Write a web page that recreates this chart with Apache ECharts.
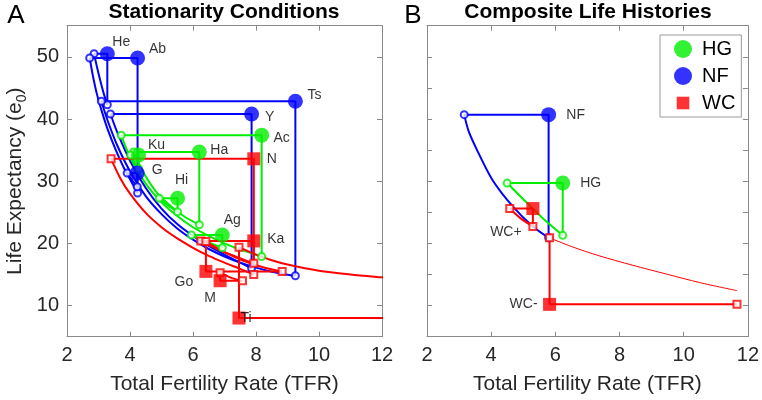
<!DOCTYPE html>
<html><head><meta charset="utf-8">
<script src="https://cdn.jsdelivr.net/npm/echarts@6/dist/echarts.min.js"></script>
<style>html,body{margin:0;padding:0;background:#fff}#c{width:762px;height:400px}</style>
</head><body><div id="c"></div>
<script>
// ---------------- DATA ----------------
const xTicks = [2, 4, 6, 8, 10, 12];
const yTicksA = [10, 20, 30, 40, 50];
const yTicksB = [10, 15, 20, 25, 30, 35, 40, 45, 50];

// Panel A: populations
const namesA  = ['He', 'Ab', 'Ts', 'Y', 'G', 'Ac', 'Ha', 'Ku', 'Hi', 'Ag', 'N', 'Ka', 'Go', 'M', 'Ti'];
const groupsA = ['NF', 'NF', 'NF', 'NF', 'NF', 'HG', 'HG', 'HG', 'HG', 'HG', 'WC', 'WC', 'WC', 'WC', 'WC'];
const tfrA    = [3.28, 4.24, 9.25, 7.86, 4.23, 8.18, 6.20, 4.27, 5.51, 6.93, 7.93, 7.93, 6.41, 6.86, 7.46];
const e0A     = [50.5, 49.8, 42.85, 40.8, 31.3, 37.4, 34.7, 34.2, 27.25, 21.35, 33.6, 20.4, 15.5, 14.0, 8.0];
const hTfrA   = [2.86, 2.72, 3.09, 3.38, 3.91, 3.72, 4.12, 4.02, 4.93, 5.95, 3.40, 6.25, 8.83, 7.57, 12.6];
const vE0A    = [42.3, 28.1, 14.8, 16.0, 29.1, 17.9, 23.0, 32.0, 25.1, 19.3, 15.0, 16.8, 20.3, 15.3, 19.4];

const curveA_He = [[2.86,50.5],[2.95,48.4],[3.05,46.3],[3.16,44.2],[3.28,42.3]];
const curveA_Ab = [[2.72,49.8],[2.82,47.0],[2.95,44.0],[3.1,41.3],[3.3,38.2],[3.55,35.0],[3.8,32.2],[4.0,30.3],[4.24,28.1]];
const curveA_Ts = [[3.09,42.85],[3.3,39.6],[3.6,35.7],[4.0,31.6],[4.5,27.6],[5.0,24.7],[5.5,22.4],[6.0,20.6],[6.5,19.1],[7.0,17.9],[7.5,16.9],[8.0,16.1],[8.5,15.45],[9.0,14.95],[9.25,14.8]];
const curveA_Y  = [[3.38,40.8],[3.6,37.8],[4.0,33.3],[4.5,28.9],[5.0,25.6],[5.5,23.1],[6.0,21.2],[6.5,19.6],[7.0,18.2],[7.5,16.9],[7.86,16.0]];
const curveA_G  = [[3.91,31.3],[4.06,30.2],[4.23,29.1]];
const curveA_Ac = [[3.72,37.4],[4.0,33.9],[4.5,29.6],[5.0,26.6],[5.5,24.4],[6.0,22.6],[6.5,21.2],[7.0,20.0],[7.5,19.0],[8.18,17.9]];
const curveA_Ha = [[4.12,34.7],[4.4,31.6],[4.8,28.5],[5.2,26.4],[5.7,24.4],[6.2,23.0]];
const curveA_Ku = [[4.02,34.2],[4.15,33.0],[4.27,32.0]];
const curveA_Hi = [[4.93,27.25],[5.2,26.1],[5.51,25.1]];
const curveA_Ag = [[5.95,21.35],[6.4,20.3],[6.93,19.3]];
const curveA_N  = [[3.40,33.6],[3.7,30.4],[4.0,28.0],[4.5,24.9],[5.0,22.6],[5.5,20.8],[6.0,19.3],[6.5,18.0],[7.0,16.9],[7.5,15.9],[7.93,15.0]];
const curveA_Ka = [[6.25,20.4],[6.8,19.0],[7.4,17.8],[7.93,16.8]];
const curveA_Go = [[6.41,20.3],[7.0,18.6],[7.6,17.2],[8.2,16.2],[8.83,15.45]];
const curveA_M  = [[6.86,15.3],[7.2,14.5],[7.57,13.9]];
const curveA_Ti = [[7.46,19.4],[8.0,18.2],[8.5,17.3],[9.0,16.6],[10.0,15.6],[11.0,15.0],[12.0,14.55],[12.6,14.3]];

// Panel B: composite life histories
const namesB  = ['NF', 'HG', 'WC+', 'WC-'];
const groupsB = ['NF', 'HG', 'WC', 'WC'];
const tfrB    = [5.79, 6.23, 5.30, 5.82];
const e0B     = [40.7, 29.7, 25.6, 10.2];
const hTfrB   = [3.16, 4.50, 4.58, 11.66];
const vE0B    = [20.9, 21.3, 22.7, 20.9];
const curveB_NF  = [[3.16,40.7],[3.3,38.0],[3.56,35.0],[4.04,30.2],[4.68,25.9],[5.30,22.7],[5.79,20.9]];
const curveB_HG  = [[4.50,29.7],[5.0,27.1],[5.6,24.1],[6.23,21.3]];
const curveB_WCp = [[4.58,25.6],[4.9,24.1],[5.30,22.7]];
const curveB_WCm = [[5.82,20.9],[6.5,19.5],[7.37,18.0],[8.4,16.5],[9.44,15.1],[10.5,13.7],[11.66,12.4]];

// ---------------- STYLE ----------------
const FONT = '"Liberation Sans", Arial, Helvetica, sans-serif';
const GRAY = '#8a8a8a';
const TXT = '#262626';
const COLOR = {NF: '#0000ff', HG: '#00ee00', WC: '#ff0000'};
const BIG = {NF: ['circle', 15], HG: ['circle', 15], WC: ['rect', 13]};
const OPEN = {NF: 'emptyCircle', HG: 'emptyCircle', WC: 'emptyRect'};
const labelOffsetA = {He:[14,-12], Ab:[20,-9], Ts:[19,-6], Y:[18,3], G:[20,-3], Ac:[20,3], Ha:[20,-2], Ku:[18,-10],
  Hi:[4,-18], Ag:[10,-15], N:[18,0], Ka:[22,-2], Go:[-22,11], M:[-10,17], Ti:[7,0]};
const labelOffsetB = {'NF':[27,0], 'HG':[28,0], 'WC+':[-27,24], 'WC-':[-26,0]};
const thinCurves = [curveB_WCm];

const curvesA = [curveA_He, curveA_Ab, curveA_Ts, curveA_Y, curveA_G, curveA_Ac, curveA_Ha, curveA_Ku, curveA_Hi, curveA_Ag,
  curveA_N, curveA_Ka, curveA_Go, curveA_M, curveA_Ti];
const curvesB = [curveB_NF, curveB_HG, curveB_WCp, curveB_WCm];

function xAxisPair(g, xName) {
  const base = {type:'value', gridIndex:g, min:xTicks[0], max:xTicks[xTicks.length-1], interval:2,
    axisLine:{show:true, onZero:false, lineStyle:{color:GRAY, width:1}},
    axisTick:{show:true, inside:true, length:5, lineStyle:{color:GRAY}},
    splitLine:{show:false}};
  return [
    Object.assign({}, base, {position:'bottom',
      axisLabel:{show:true, color:TXT, fontSize:20, margin:9, fontFamily:FONT, showMinLabel:true, showMaxLabel:true},
      name:xName, nameLocation:'middle', nameGap:37, nameTextStyle:{fontSize:21, color:TXT, fontFamily:FONT}}),
    Object.assign({}, base, {position:'top', axisLabel:{show:false}})
  ];
}
function yAxisPair(g, ticks, showLabels) {
  const base = {type:'value', gridIndex:g, min:5, max:55,
    axisLine:{show:true, onZero:false, lineStyle:{color:GRAY, width:1}},
    axisTick:{show:true, inside:true, length:5, lineStyle:{color:GRAY}, customValues:ticks},
    splitLine:{show:false}};
  const left = Object.assign({}, base, {position:'left',
    axisLabel:{show:showLabels, customValues:ticks, color:TXT, fontSize:20, margin:8, fontFamily:FONT}});
  if (showLabels) {
    left.name = 'Life Expectancy (e{s|0})';
    left.nameLocation = 'middle';
    left.nameGap = 38;
    left.nameRotate = 90;
    left.nameTextStyle = {fontSize:21, lineHeight:28, color:TXT, fontFamily:FONT,
      rich:{s:{fontSize:14, lineHeight:16, color:TXT, fontFamily:FONT, verticalAlign:'bottom'}}};
  }
  return [left, Object.assign({}, base, {position:'right', axisLabel:{show:false}})];
}

const series = [];
function addPanel(ax, names, groups, tfr, e0, hT, vE, curves, offsets) {
  const big = {NF:[], HG:[], WC:[]};
  names.forEach((n, i) => {
    const g = groups[i], c = COLOR[g];
    series.push({type:'line', xAxisIndex:ax, yAxisIndex:ax, silent:true, animation:false, z:2,
      data:[[hT[i], e0[i]], [tfr[i], e0[i]], [tfr[i], vE[i]]], symbol:'none',
      lineStyle:{color:c, width:2}, itemStyle:{color:c}});
    series.push({type:'line', xAxisIndex:ax, yAxisIndex:ax, silent:true, animation:false, z:2,
      data:curves[i], smooth:0.3, symbol:'none',
      lineStyle:{color:c, width:thinCurves.indexOf(curves[i]) >= 0 ? 1 : 2}, itemStyle:{color:c}});
    series.push({type:'scatter', xAxisIndex:ax, yAxisIndex:ax, silent:true, animation:false, z:3,
      data:[[hT[i], e0[i]], [tfr[i], vE[i]]], symbol:OPEN[g], symbolSize:7, itemStyle:{color:c}});
    big[g].push({name:n, value:[tfr[i], e0[i]], label:{offset:offsets[n]}});
  });
  ['NF', 'HG', 'WC'].forEach(g => {
    if (!big[g].length) return;
    series.push({type:'scatter', name:g, xAxisIndex:ax, yAxisIndex:ax, silent:true, animation:false, z:4,
      data:big[g], symbol:BIG[g][0], symbolSize:BIG[g][1], itemStyle:{color:COLOR[g]},
      label:{show:true, formatter:'{b}', position:'inside', color:'#000', fontSize:14, fontFamily:FONT}});
  });
}
addPanel(0, namesA, groupsA, tfrA, e0A, hTfrA, vE0A, curvesA, labelOffsetA);
addPanel(2, namesB, groupsB, tfrB, e0B, hTfrB, vE0B, curvesB, labelOffsetB);

const xa = xAxisPair(0, 'Total Fertility Rate (TFR)').concat(xAxisPair(1, 'Total Fertility Rate (TFR)'));
const ya = yAxisPair(0, yTicksA, true).concat(yAxisPair(1, yTicksB, false));

const option = {
  animation:false,
  backgroundColor:'#fff',
  textStyle:{fontFamily:FONT},
  grid:[
    {left:65.5, top:25.7, width:316.5, height:311},
    {left:427, top:25.7, width:322, height:311}
  ],
  xAxis:xa,
  yAxis:ya,
  legend:{
    data:[{name:'HG', icon:'circle'}, {name:'NF', icon:'circle'}, {name:'WC', icon:'path://M0,0M20,20M3,3L17,3L17,17L3,17Z'}],
    orient:'vertical', left:660, top:35, itemWidth:18, itemHeight:18, itemGap:7,
    padding:[4,6,4,14], borderColor:'#9a9a9a', borderWidth:1, backgroundColor:'#fff',
    selectedMode:false,
    textStyle:{fontSize:20, color:'#000', fontFamily:FONT, padding:[0,0,0,5]}
  },
  graphic:[
    {type:'text', x:16, y:16, style:{text:'A', fill:'#000', font:'26px ' + FONT, align:'center', verticalAlign:'middle'}},
    {type:'text', x:413, y:16, style:{text:'B', fill:'#000', font:'26px ' + FONT, align:'center', verticalAlign:'middle'}},
    {type:'text', x:224, y:12, style:{text:'Stationarity Conditions', fill:'#000', font:'bold 21px ' + FONT, align:'center', verticalAlign:'middle'}},
    {type:'text', x:588, y:12, style:{text:'Composite Life Histories', fill:'#000', font:'bold 21px ' + FONT, align:'center', verticalAlign:'middle'}}
  ],
  series:series
};
const chart = echarts.init(document.getElementById('c'), null, {renderer:'canvas', width:762, height:400});
chart.setOption(option);
</script>
</body></html>
